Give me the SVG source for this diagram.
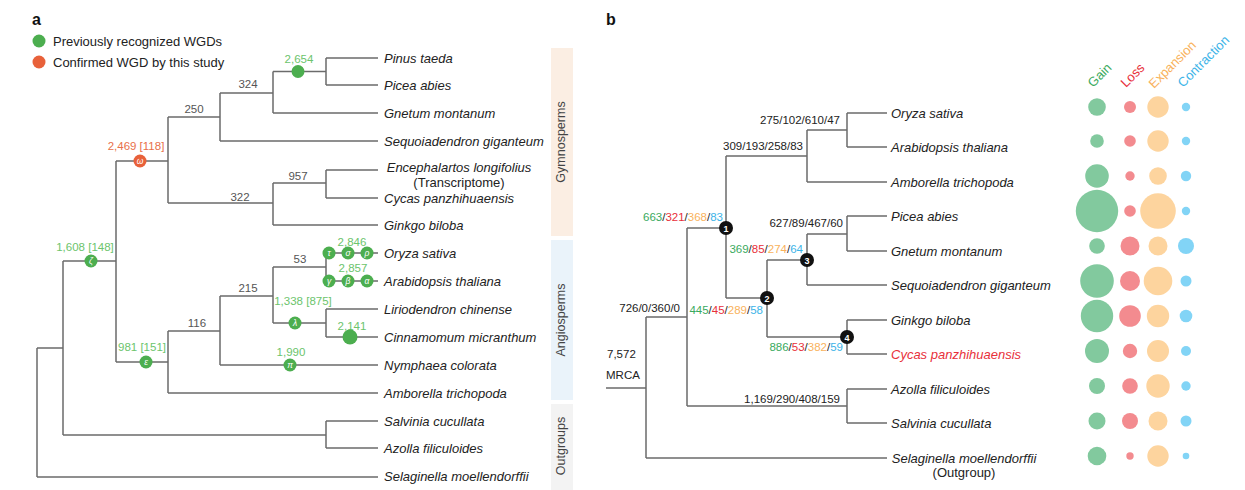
<svg xmlns="http://www.w3.org/2000/svg" width="1245" height="490" viewBox="0 0 1245 490">
<style>
text{font-family:"Liberation Sans",Arial,sans-serif;}
.lbl{font-size:16px;font-weight:bold;fill:#111;}
.leg{font-size:13px;fill:#222;}
.sp{font-size:13px;font-style:italic;fill:#222;}
.sub{font-size:13px;fill:#222;}
.num{font-size:11.5px;fill:#555;text-anchor:middle;}
.gn{font-size:11.5px;fill:#6cc46c;text-anchor:middle;}
.rd{font-size:11.5px;fill:#e8704a;text-anchor:middle;}
.br{fill:none;stroke:#6b6b6b;stroke-width:1.5;}
.wg{fill:#4cae4f;}
.wr{fill:#e8613a;}
.gk{font-size:8.5px;font-style:italic;fill:#fff;text-anchor:middle;}
.grp{font-size:12.5px;fill:#444;text-anchor:middle;}
.bn{font-size:11.5px;fill:#222;}
.g{fill:#3aaa5e;}.r{fill:#e8303a;}.o{fill:#f9b25c;}.b{fill:#3cb4e8;}
.nc{fill:#111;}
.nt{font-size:9px;font-weight:bold;fill:#fff;text-anchor:middle;}
.cg{fill:#82c99e;}.cl{fill:#f38b8f;}.ce{fill:#fdd49e;}.cc{fill:#82d4f6;}
.hd{font-size:13px;}
</style>

<!-- Panel a -->
<text class="lbl" x="32" y="25">a</text>
<g id="legend">
  <circle class="wg" cx="39" cy="41" r="6.5"/>
  <text class="leg" x="53" y="45.5">Previously recognized WGDs</text>
  <circle class="wr" cx="39" cy="62" r="6.5"/>
  <text class="leg" x="53" y="66.5">Confirmed WGD by this study</text>
</g>

<g id="group-bars">
  <rect x="551" y="48" width="22" height="188" fill="#fbeee3"/>
  <text class="grp" transform="translate(565,142) rotate(-90)">Gymnosperms</text>
  <rect x="551" y="240" width="22" height="160" fill="#eaf3fa"/>
  <text class="grp" transform="translate(565,320) rotate(-90)">Angiosperms</text>
  <rect x="551" y="404" width="22" height="86" fill="#f3f3f3"/>
  <text class="grp" transform="translate(565,446) rotate(-90)">Outgroups</text>
</g>

<g id="connectors-a">
  <path class="br" d="M37,348V477M37,348H63M37,477H378"/>
  <path class="br" d="M63,261V435M63,261H116M63,435H326"/>
  <path class="br" d="M116,161V362M116,161H168M116,362H168"/>
  <path class="br" d="M168,117V203M168,117H220M168,203H273"/>
  <path class="br" d="M220,93V141M220,93H273M220,141H378"/>
  <path class="br" d="M273,71.5V113M273,71.5H326M273,113H378"/>
  <path class="br" d="M326,58V85M326,58H378M326,85H378"/>
  <path class="br" d="M273,183V225M273,183H326M273,225H378"/>
  <path class="br" d="M326,170V198M326,170H378M326,198H378"/>
  <path class="br" d="M168,331V393M168,331H220M168,393H378"/>
  <path class="br" d="M220,296V365M220,296H273M220,365H378"/>
  <path class="br" d="M273,267V323M273,267H326M273,323H326"/>
  <path class="br" d="M326,253V281M326,253H378M326,281H378"/>
  <path class="br" d="M326,309V337M326,309H378M326,337H378"/>
  <path class="br" d="M326,421V448M326,421H378M326,448H378"/>
</g>

<g id="branch-labels-a">
  <text class="num" x="248" y="88">324</text>
  <text class="num" x="194" y="112.5">250</text>
  <text class="num" x="240" y="201">322</text>
  <text class="num" x="298" y="180">957</text>
  <text class="num" x="300" y="263">53</text>
  <text class="num" x="248" y="292">215</text>
  <text class="num" x="197" y="327">116</text>
</g>

<g id="wgd-markers">
  <text class="gn" x="299" y="63">2,654</text>
  <circle class="wg" cx="298" cy="71.5" r="6.5"/>
  <text class="rd" x="136" y="150">2,469 [118]</text>
  <circle class="wr" cx="140" cy="161" r="6.5"/>
  <text class="gk" x="140" y="164">ω</text>
  <text class="gn" x="85" y="251">1,608 [148]</text>
  <circle class="wg" cx="91" cy="261" r="6.5"/>
  <text class="gk" x="91" y="264">ζ</text>
  <text class="gn" x="142" y="351">981 [151]</text>
  <circle class="wg" cx="146" cy="362" r="6.5"/>
  <text class="gk" x="146" y="365">ε</text>
  <text class="gn" x="291" y="356">1,990</text>
  <circle class="wg" cx="290" cy="365" r="6.5"/>
  <text class="gk" x="290" y="368">π</text>
  <text class="gn" x="303" y="305">1,338 [875]</text>
  <circle class="wg" cx="295" cy="323" r="6.5"/>
  <text class="gk" x="295" y="326">λ</text>
  <text class="gn" x="352" y="246">2,846</text>
  <circle class="wg" cx="329" cy="253" r="6.5"/><text class="gk" x="329" y="256">τ</text>
  <circle class="wg" cx="348" cy="253" r="6.5"/><text class="gk" x="348" y="256">σ</text>
  <circle class="wg" cx="367" cy="253" r="6.5"/><text class="gk" x="367" y="256">ρ</text>
  <text class="gn" x="353" y="272">2,857</text>
  <circle class="wg" cx="329" cy="281" r="6.5"/><text class="gk" x="329" y="284">γ</text>
  <circle class="wg" cx="348" cy="281" r="6.5"/><text class="gk" x="348" y="284">β</text>
  <circle class="wg" cx="367" cy="281" r="6.5"/><text class="gk" x="367" y="284">α</text>
  <text class="gn" x="352" y="330">2,141</text>
  <circle class="wg" cx="350" cy="337" r="7.5"/>
</g>

<g id="leaves-a">
  <text class="sp" x="384" y="62.5">Pinus taeda</text>
  <text class="sp" x="384" y="89.5">Picea abies</text>
  <text class="sp" x="384" y="117.5">Gnetum montanum</text>
  <text class="sp" x="384" y="145.5">Sequoiadendron giganteum</text>
  <text class="sp" x="459" y="171.5" text-anchor="middle">Encephalartos longifolius</text>
  <text class="sub" x="459" y="187" text-anchor="middle">(Transcriptome)</text>
  <text class="sp" x="384" y="202.5">Cycas panzhihuaensis</text>
  <text class="sp" x="384" y="229.5">Ginkgo biloba</text>
  <text class="sp" x="384" y="257.5">Oryza sativa</text>
  <text class="sp" x="384" y="285.5">Arabidopsis thaliana</text>
  <text class="sp" x="384" y="313.5">Liriodendron chinense</text>
  <text class="sp" x="384" y="341.5">Cinnamomum micranthum</text>
  <text class="sp" x="384" y="369.5">Nymphaea colorata</text>
  <text class="sp" x="384" y="397.5">Amborella trichopoda</text>
  <text class="sp" x="384" y="425.5">Salvinia cucullata</text>
  <text class="sp" x="384" y="452.5">Azolla filiculoides</text>
  <text class="sp" x="384" y="480.5">Selaginella moellendorffii</text>
</g>

<!-- Panel b -->
<text class="lbl" x="606" y="25">b</text>

<g id="connectors-b">
  <path class="br" d="M606,388H646M646,317V458M646,317H687M646,458H887"/>
  <path class="br" d="M687,228V406M687,228H726M687,406H847"/>
  <path class="br" d="M847,389V423M847,389H887M847,423H887"/>
  <path class="br" d="M726,156V298M726,156H807M726,298H767"/>
  <path class="br" d="M807,130V182M807,130H847M807,182H887"/>
  <path class="br" d="M847,113V147M847,113H887M847,147H887"/>
  <path class="br" d="M767,260V337M767,260H807M767,337H847"/>
  <path class="br" d="M807,234V285M807,234H847M807,285H887"/>
  <path class="br" d="M847,216V251M847,216H887M847,251H887"/>
  <path class="br" d="M847,320V354M847,320H887M847,354H887"/>
</g>

<g id="node-markers-b">
  <circle class="nc" cx="726" cy="228" r="7"/><text class="nt" x="726" y="231.5">1</text>
  <circle class="nc" cx="767" cy="298" r="7"/><text class="nt" x="767" y="301.5">2</text>
  <circle class="nc" cx="807" cy="260" r="7"/><text class="nt" x="807" y="263.5">3</text>
  <circle class="nc" cx="847" cy="337" r="7"/><text class="nt" x="847" y="340.5">4</text>
</g>

<g id="branch-labels-b">
  <text class="bn" x="840" y="124" text-anchor="end">275/102/610/47</text>
  <text class="bn" x="803" y="150" text-anchor="end">309/193/258/83</text>
  <text class="bn" x="723" y="221" text-anchor="end"><tspan class="g">663</tspan>/<tspan class="r">321</tspan>/<tspan class="o">368</tspan>/<tspan class="b">83</tspan></text>
  <text class="bn" x="843" y="227" text-anchor="end">627/89/467/60</text>
  <text class="bn" x="803" y="253" text-anchor="end"><tspan class="g">369</tspan>/<tspan class="r">85</tspan>/<tspan class="o">274</tspan>/<tspan class="b">64</tspan></text>
  <text class="bn" x="763" y="314" text-anchor="end"><tspan class="g">445</tspan>/<tspan class="r">45</tspan>/<tspan class="o">289</tspan>/<tspan class="b">58</tspan></text>
  <text class="bn" x="843" y="351" text-anchor="end"><tspan class="g">886</tspan>/<tspan class="r">53</tspan>/<tspan class="o">382</tspan>/<tspan class="b">59</tspan></text>
  <text class="bn" x="680" y="312" text-anchor="end">726/0/360/0</text>
  <text class="bn" x="840" y="403" text-anchor="end">1,169/290/408/159</text>
  <text class="bn" x="607" y="358">7,572</text>
  <text class="bn" x="606" y="379">MRCA</text>
</g>

<g id="leaves-b">
  <text class="sp" x="891" y="117.5">Oryza sativa</text>
  <text class="sp" x="891" y="151.5">Arabidopsis thaliana</text>
  <text class="sp" x="891" y="186.5">Amborella trichopoda</text>
  <text class="sp" x="891" y="220.5">Picea abies</text>
  <text class="sp" x="891" y="255.5">Gnetum montanum</text>
  <text class="sp" x="891" y="289.5">Sequoiadendron giganteum</text>
  <text class="sp" x="891" y="324.5">Ginkgo biloba</text>
  <text class="sp" x="891" y="358.5" style="fill:#e8303a">Cycas panzhihuaensis</text>
  <text class="sp" x="891" y="393.5">Azolla filiculoides</text>
  <text class="sp" x="891" y="427.5">Salvinia cucullata</text>
  <text class="sp" x="964" y="462.5" text-anchor="middle">Selaginella moellendorffii</text>
  <text class="sub" x="964" y="477" text-anchor="middle">(Outgroup)</text>
</g>

<g id="bubble-headers">
  <text class="hd g" transform="translate(1093,88) rotate(-45)">Gain</text>
  <text class="hd r" transform="translate(1126,88) rotate(-45)">Loss</text>
  <text class="hd o" transform="translate(1154,89) rotate(-45)">Expansion</text>
  <text class="hd b" transform="translate(1183,88) rotate(-45)">Contraction</text>
</g>

<g id="bubbles">
  <circle class="cg" cx="1097" cy="107" r="8.8"/><circle class="cl" cx="1130" cy="107" r="6"/><circle class="ce" cx="1158" cy="107" r="10.7"/><circle class="cc" cx="1186" cy="107" r="4.2"/>
  <circle class="cg" cx="1097" cy="141" r="6.8"/><circle class="cl" cx="1130" cy="141" r="5.8"/><circle class="ce" cx="1158" cy="141" r="10.7"/><circle class="cc" cx="1186" cy="141" r="4.2"/>
  <circle class="cg" cx="1097" cy="176" r="11.8"/><circle class="cl" cx="1130" cy="176" r="4.7"/><circle class="ce" cx="1158" cy="176" r="8.8"/><circle class="cc" cx="1186" cy="176" r="5.2"/>
  <circle class="cg" cx="1097" cy="211" r="21.2"/><circle class="cl" cx="1130" cy="211" r="5.8"/><circle class="ce" cx="1158" cy="211" r="17.8"/><circle class="cc" cx="1186" cy="211" r="4.2"/>
  <circle class="cg" cx="1097" cy="246" r="7.8"/><circle class="cl" cx="1130" cy="246" r="9.5"/><circle class="ce" cx="1158" cy="246" r="9.5"/><circle class="cc" cx="1186" cy="246" r="8"/>
  <circle class="cg" cx="1097" cy="281" r="16.8"/><circle class="cl" cx="1130" cy="281" r="10"/><circle class="ce" cx="1158" cy="281" r="14.3"/><circle class="cc" cx="1186" cy="281" r="5.5"/>
  <circle class="cg" cx="1097" cy="316" r="16.2"/><circle class="cl" cx="1130" cy="316" r="10.8"/><circle class="ce" cx="1158" cy="316" r="11.2"/><circle class="cc" cx="1186" cy="316" r="6.3"/>
  <circle class="cg" cx="1097" cy="351" r="12"/><circle class="cl" cx="1130" cy="351" r="7.2"/><circle class="ce" cx="1158" cy="351" r="11"/><circle class="cc" cx="1186" cy="351" r="5"/>
  <circle class="cg" cx="1097" cy="386" r="8"/><circle class="cl" cx="1130" cy="386" r="7.8"/><circle class="ce" cx="1158" cy="386" r="11.7"/><circle class="cc" cx="1186" cy="386" r="4.7"/>
  <circle class="cg" cx="1097" cy="421" r="8.5"/><circle class="cl" cx="1130" cy="421" r="8"/><circle class="ce" cx="1158" cy="421" r="9.5"/><circle class="cc" cx="1186" cy="421" r="5.5"/>
  <circle class="cg" cx="1097" cy="456" r="9.3"/><circle class="cl" cx="1130" cy="456" r="3.7"/><circle class="ce" cx="1158" cy="456" r="10.7"/><circle class="cc" cx="1186" cy="456" r="3.3"/>
</g>
</svg>
